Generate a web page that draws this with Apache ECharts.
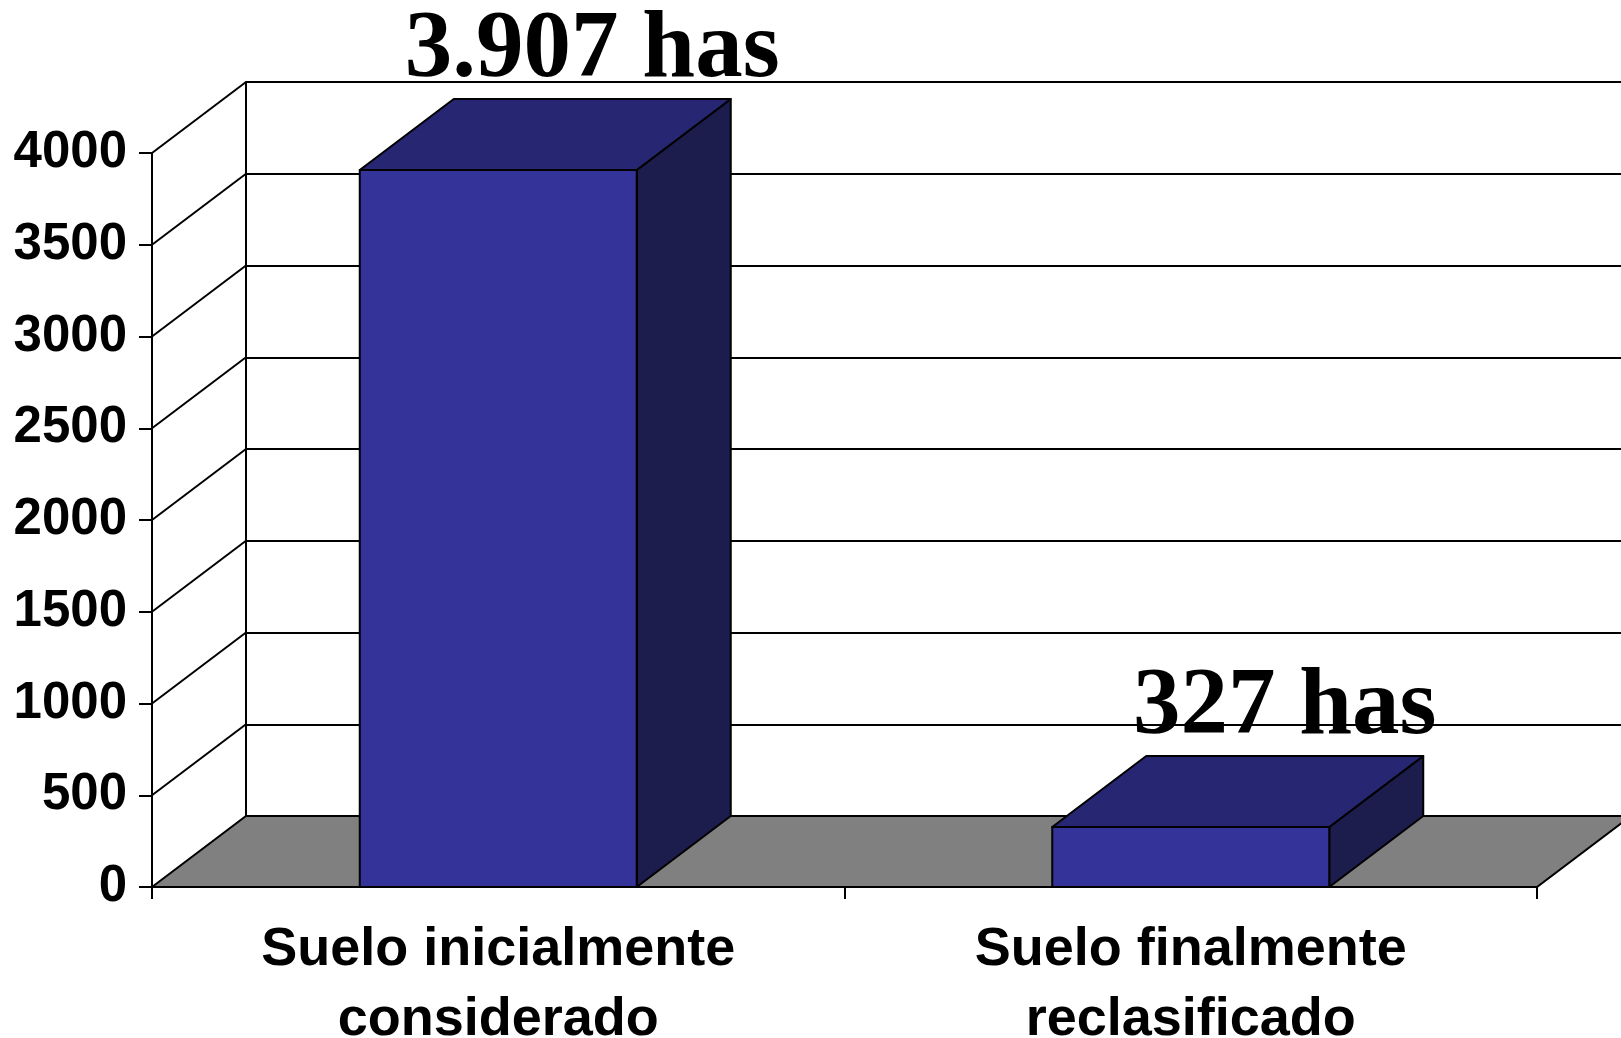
<!DOCTYPE html>
<html>
<head>
<meta charset="utf-8">
<script src="https://cdn.jsdelivr.net/npm/echarts@6/dist/echarts.min.js"></script>
<style>
  html, body { margin: 0; padding: 0; background: #fff; }
  #chart { width: 1621px; height: 1038px; }
</style>
</head>
<body>
<div id="chart"></div>
<script>
// datos del grafico
const categories = ['Suelo inicialmente\nconsiderado', 'Suelo finalmente\nreclasificado'];
const values = [3907, 327];
const valueLabels = ['3.907 has', '327 has'];
const yTicks = [0, 500, 1000, 1500, 2000, 2500, 3000, 3500, 4000];

// desplazamiento de la profundidad (efecto 3D)
const DX = 94;
const DY = -71;

const sans = "'Liberation Sans', Arial, sans-serif";
const serif = "'Liberation Serif', 'Times New Roman', serif";

let myChart = echarts.init(document.getElementById('chart'));

let option = {
  animation: false,
  grid: [
    { left: 152, top: 153, width: 1385, height: 734, outerBoundsMode: 'none' },
    { left: 152 + DX, top: 153 + DY, width: 1385, height: 734, outerBoundsMode: 'none' }
  ],
  xAxis: [
    {
      type: 'category',
      gridIndex: 0,
      data: categories,
      axisLine: { lineStyle: { color: '#000', width: 2 } },
      axisTick: { show: true, length: 12, lineStyle: { color: '#000', width: 2 } },
      axisLabel: {
        interval: 0,
        margin: 28,
        color: '#000',
        fontFamily: sans,
        fontWeight: 'bold',
        fontSize: 54,
        lineHeight: 70
      }
    },
    {
      type: 'category',
      gridIndex: 1,
      data: categories,
      show: false
    }
  ],
  yAxis: [
    {
      type: 'value',
      gridIndex: 0,
      min: 0,
      max: 4000,
      interval: 500,
      axisLine: { show: true, lineStyle: { color: '#000', width: 2 } },
      axisTick: { show: true, length: 13, lineStyle: { color: '#000', width: 2 } },
      splitLine: { show: false },
      axisLabel: {
        margin: 25,
        color: '#000',
        fontFamily: sans,
        fontWeight: 'bold',
        fontSize: 51,
        formatter: v => String(v)
      }
    },
    {
      // pared del fondo
      type: 'value',
      gridIndex: 1,
      min: 0,
      max: 4000,
      interval: 500,
      axisLine: { show: true, lineStyle: { color: '#000', width: 2 } },
      axisTick: { show: false },
      axisLabel: { show: false },
      splitLine: { show: true, lineStyle: { color: '#000', width: 2 } }
    }
  ],
  series: [
    {
      // lineas diagonales de la pared lateral
      type: 'custom',
      xAxisIndex: 0,
      yAxisIndex: 0,
      silent: true,
      z: 1,
      data: yTicks.slice(1).map(v => [0, v]),
      renderItem: function (params, api) {
        let x0 = params.coordSys.x;
        let y = api.coord([0, api.value(1)])[1];
        return {
          type: 'line',
          shape: { x1: x0, y1: y, x2: x0 + DX, y2: y + DY },
          style: { stroke: '#000', lineWidth: 2 }
        };
      }
    },
    {
      // suelo gris
      type: 'custom',
      xAxisIndex: 0,
      yAxisIndex: 0,
      silent: true,
      z: 2,
      data: [[0, 0]],
      renderItem: function (params, api) {
        let cs = params.coordSys;
        let y0 = api.coord([0, 0])[1];
        return {
          type: 'polygon',
          shape: {
            points: [
              [cs.x, y0],
              [cs.x + DX, y0 + DY],
              [cs.x + cs.width + DX, y0 + DY],
              [cs.x + cs.width, y0]
            ]
          },
          style: { fill: '#808080', stroke: '#000', lineWidth: 2 }
        };
      }
    },
    {
      // barras 3D
      type: 'custom',
      xAxisIndex: 0,
      yAxisIndex: 0,
      silent: true,
      z: 3,
      data: values.map((v, i) => [i, v]),
      renderItem: function (params, api) {
        let i = api.value(0);
        let base = api.coord([i, 0]);
        let top = api.coord([i, api.value(1)]);
        let w = api.size([1, 0])[0] * 0.4;
        let x1 = base[0] - w / 2;
        let x2 = base[0] + w / 2;
        let yb = base[1];
        let yt = top[1];
        let edge = { stroke: '#000', lineWidth: 2, lineJoin: 'round' };
        return {
          type: 'group',
          children: [
            {
              type: 'polygon',
              shape: { points: [[x2, yt], [x2 + DX, yt + DY], [x2 + DX, yb + DY], [x2, yb]] },
              style: Object.assign({ fill: '#1c1c4d' }, edge)
            },
            {
              type: 'polygon',
              shape: { points: [[x1, yt], [x1 + DX, yt + DY], [x2 + DX, yt + DY], [x2, yt]] },
              style: Object.assign({ fill: '#272673' }, edge)
            },
            {
              type: 'rect',
              shape: { x: x1, y: yt, width: w, height: yb - yt },
              style: Object.assign({ fill: '#333399' }, edge)
            },
            {
              type: 'text',
              style: {
                text: valueLabels[params.dataIndex],
                x: base[0] + DX,
                y: yt + DY - 48,
                align: 'center',
                verticalAlign: 'middle',
                fill: '#000',
                font: 'bold 95px ' + serif
              }
            }
          ]
        };
      }
    }
  ]
};

myChart.setOption(option);
</script>
</body>
</html>
